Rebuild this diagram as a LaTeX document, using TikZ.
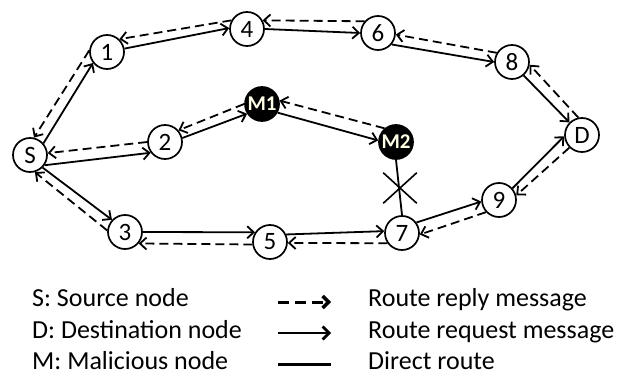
\documentclass[tikz,border=0pt]{standalone}
\usepackage{fontspec}
\setmainfont{Carlito}
\usetikzlibrary{arrows.meta,shapes.misc}
\begin{document}
\begin{tikzpicture}[x=1pt,y=-1pt,
  nd/.style={circle,draw,line width=1.7pt,minimum size=34pt,inner sep=0pt,fill=white,font=\fontsize{25}{25}\selectfont},
  mal/.style={nd,fill=black,text=white!90!yellow,font=\bfseries\fontsize{21}{21}\selectfont},
  req/.style={line width=1.8pt,-{Straight Barb[length=6.5pt,width=12pt]}},
  rep/.style={req,dash pattern=on 9pt off 5pt},
  plain/.style={line width=1.8pt},
  lg/.style={anchor=base west,font=\fontsize{26}{26}\selectfont,inner sep=0pt},
  lgreq/.style={line width=2.8pt,-{Straight Barb[length=6.5pt,width=13pt]}},
  lgrep/.style={line width=3pt,dash pattern=on 11pt off 6pt,-{Straight Barb[length=6pt,width=12pt,line width=3.4pt]}},
  lgplain/.style={line width=3pt}
]
\useasboundingbox (0,0) rectangle (631,377);

% nodes
\node[nd] (S) at (30,155) {S};
\node[nd] (1) at (107,52) {1};
\node[nd] (4) at (247,29) {4};
\node[nd] (6) at (378,33) {6};
\node[nd] (8) at (512,62) {8};
\node[nd] (D) at (582,135) {D};
\node[nd] (2) at (165,142) {2};
\node[mal] (M1) at (262,104) {M1};
\node[mal] (M2) at (396,142) {M2};
\node[nd] (3) at (125,232) {3};
\node[nd] (5) at (270,242) {5};
\node[nd] (7) at (402,233) {7};
\node[nd] (9) at (499,200) {9};

% top path
\draw[req] (S.41) -- (1.218);
\draw[rep] (1.175) -- (S.77);
\draw[req] (1.11) -- (4.177);
\draw[rep] (4.151) -- (1.46);
\draw[req] (4.0) -- (6.180);
\draw[rep] (6.139) -- (4.29);
\draw[req] (6.320) -- (8.180);
\draw[rep] (8.149) -- (6.355);
\draw[req] (8.311) -- (D.135);
\draw[rep] (D.102) -- (8.351);

% middle path
\draw[req] (S.325) -- (2.217);
\draw[rep] (2.180) -- (S.6);
\draw[req] (2.13) -- (M1.213);
\draw[rep] (M1.180) -- (2.41);
\draw[req] (M1.331) -- (M2.175);
\draw[rep] (M2.130) -- (M1.11);
\draw[plain] (M2.270) -- (7.90);
\node[cross out,draw,line width=1.6pt,minimum width=32pt,minimum height=29pt,inner sep=0pt] (X) at (400,188) {};

% bottom path
\draw[req] (S.315) -- (3.137);
\draw[rep] (3.175) -- (S.286);
\draw[req] (3.0) -- (5.147);
\draw[rep] (5.188) -- (3.320);
\draw[req] (5.25) -- (7.174);
\draw[rep] (7.215) -- (5.357);
\draw[req] (7.36) -- (9.185);
\draw[rep] (9.223) -- (7.355);
\draw[req] (9.41) -- (D.184);
\draw[rep] (D.225) -- (9.15);

% legend
\node[lg] (ls) at (32,306) {S: Source node};
\node[lg] (ld) at (32,338) {D: Destination node};
\node[lg] (lm) at (32,369) {M: Malicious node};
\coordinate (a1) at (278,302);
\coordinate (b1) at (331,302);
\coordinate (a2) at (278,333);
\coordinate (b2) at (331,333);
\coordinate (a3) at (278,364);
\coordinate (b3) at (331,364);
\draw[lgrep] (a1) -- (b1);
\draw[lgreq] (a2) -- (b2);
\draw[lgplain] (a3) -- (b3);
\node[lg] (tr) at (368,306) {Route reply message};
\node[lg] (tq) at (368,338) {Route request message};
\node[lg] (td) at (368,369) {Direct route};
\end{tikzpicture}
\end{document}
